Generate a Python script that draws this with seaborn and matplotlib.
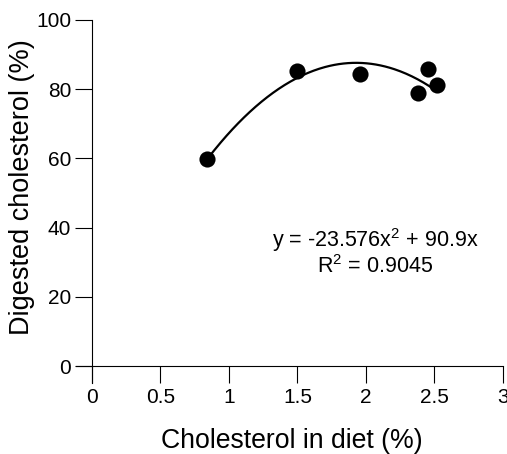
import numpy as np
import pandas as pd
import matplotlib
matplotlib.use("Agg")
import matplotlib.pyplot as plt
import seaborn as sns

# Data
chol_diet = [0.84, 1.50, 1.96, 2.38, 2.45, 2.52]
digested = [59.7, 85.3, 84.3, 78.8, 85.8, 81.2]
# Trendline coefficients printed on the chart
coef_a = -23.576
coef_b = 90.9
r2_text = "0.9045"
x_ticks = [0, 0.5, 1, 1.5, 2, 2.5, 3]
x_tick_labels = ["0", "0.5", "1", "1.5", "2", "2.5", "3"]
y_ticks = [0, 20, 40, 60, 80, 100]

sns.set_style("white")
plt.rcParams['font.family'] = ['Liberation Sans', 'DejaVu Sans']
plt.rcParams['mathtext.fontset'] = 'custom'
plt.rcParams['mathtext.rm'] = 'Liberation Sans'
plt.rcParams['mathtext.it'] = 'Liberation Sans'
plt.rcParams['mathtext.default'] = 'regular'
for k in ['text.color', 'axes.labelcolor', 'xtick.color', 'ytick.color',
          'axes.edgecolor']:
    plt.rcParams[k] = 'black'

fig = plt.figure(figsize=(5.07, 4.54), dpi=100)
W, H = 507, 454
x_left_px, x_right_px = 75.5, 503
y_top_px, y_bot_px = 20, 383.3
ax = fig.add_axes([x_left_px / W, 1 - y_bot_px / H,
                   (x_right_px - x_left_px) / W, (y_bot_px - y_top_px) / H])

df = pd.DataFrame({"x": chol_diet, "y": digested})

# trendline from the chart's printed equation
xs = np.linspace(min(chol_diet), max(chol_diet), 200)
trend = pd.DataFrame({"x": xs, "y": coef_a * xs**2 + coef_b * xs})
sns.lineplot(data=trend, x="x", y="y", ax=ax, color="black", lw=1.6, zorder=2)
sns.scatterplot(data=df, x="x", y="y", ax=ax, color="black", s=135,
                edgecolor="black", linewidth=0, zorder=3)

ax.set_xlim(-0.12, 3)
ax.set_ylim(-5, 100)
for side in ["top", "right"]:
    ax.spines[side].set_visible(False)
ax.spines['left'].set_position(('data', 0))
ax.spines['bottom'].set_position(('data', 0))
for side in ["left", "bottom"]:
    ax.spines[side].set_color("black")
    ax.spines[side].set_linewidth(0.8)

ax.set_xticks(x_ticks)
ax.set_xticklabels(x_tick_labels)
ax.set_yticks(y_ticks)
ax.tick_params(axis='x', direction='out', length=12.2, width=0.8, pad=3.5,
               labelsize=15, colors='black', bottom=True)
ax.tick_params(axis='y', direction='out', length=12.5, width=0.8, pad=2.5,
               labelsize=15, colors='black', left=True)
ax.grid(False)

ax.set_xlabel("")
ax.set_ylabel("")
fig.text(291.5 / W, 1 - 441.5 / H, "Cholesterol in diet (%)", ha='center',
         va='center', fontsize=19.2, color='black')
fig.text(22 / W, 1 - 187 / H, "Digested cholesterol (%)", ha='center',
         va='center', rotation=90, fontsize=19.5, color='black')

ax.text(2.066, 34.4, f"y = {coef_a}x$^{{2}}$ + {coef_b}x", ha='center',
        va='baseline', fontsize=15.5, color='black')
ax.text(2.066, 27.0, f"R$^{{2}}$ = {r2_text}", ha='center', va='baseline',
        fontsize=15.5, color='black')

fig.savefig("out.png", dpi=100)
